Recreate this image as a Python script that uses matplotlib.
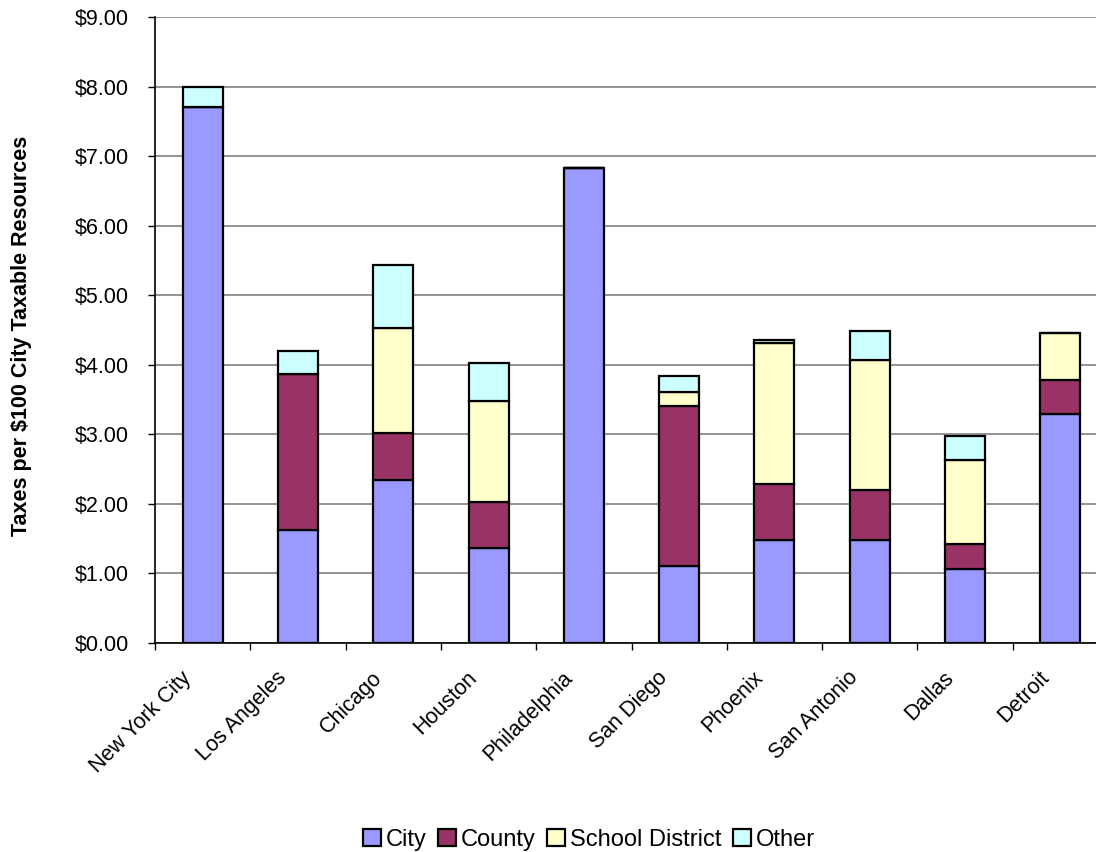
import matplotlib
matplotlib.use("Agg")
import matplotlib.pyplot as plt
import matplotlib.transforms as mtransforms
import numpy as np

plt.rcParams['font.family'] = ['Liberation Sans', 'DejaVu Sans']

cities = ["New York City", "Los Angeles", "Chicago", "Houston", "Philadelphia",
          "San Diego", "Phoenix", "San Antonio", "Dallas", "Detroit"]
city = [7.71, 1.62, 2.34, 1.37, 6.83, 1.11, 1.48, 1.48, 1.07, 3.29]
county = [0.00, 2.25, 0.68, 0.66, 0.00, 2.30, 0.81, 0.72, 0.35, 0.49]
school = [0.00, 0.00, 1.51, 1.45, 0.00, 0.20, 2.03, 1.87, 1.21, 0.67]
other = [0.29, 0.33, 0.90, 0.55, 0.00, 0.23, 0.04, 0.41, 0.35, 0.00]
series_names = ["City", "County", "School District", "Other"]
colors = ["#9999FF", "#993366", "#FFFFCC", "#CCFFFF"]
yticks = [0, 1, 2, 3, 4, 5, 6, 7, 8, 9]

fig = plt.figure(figsize=(10.96, 8.52), dpi=100)
ax = fig.add_axes([155/1096, 1-643/852, 953/1096, 626/852])

x = np.arange(len(cities))
bottom = np.zeros(len(cities))
handles = []
for name, vals, col in zip(series_names, [city, county, school, other], colors):
    v = np.array(vals)
    b = ax.bar(x, v, width=0.42, bottom=bottom, color=col, edgecolor="black",
               linewidth=1.6, label=name, zorder=3)
    handles.append(b)
    bottom += v

ax.set_xlim(-0.5, len(cities) - 0.5)
ax.set_ylim(0, 9)
ax.set_yticks(yticks)
ax.set_yticklabels([f"${t:.2f}" for t in yticks], fontsize=15.5)
ax.yaxis.grid(True, color="#808080", linewidth=1.2, zorder=0)
ax.set_axisbelow(True)

ax.set_xticks(np.arange(-0.5, len(cities), 1.0), minor=False)
ax.set_xticklabels([])
ax.set_xticks(x, minor=True)
ax.set_xticklabels(cities, minor=True, rotation=45, ha="right", rotation_mode="anchor",
                   fontsize=15.5)
ax.tick_params(axis="x", which="minor", length=0, pad=16)
ax.tick_params(axis="x", which="major", length=5, direction="out", width=1)
ax.tick_params(axis="y", length=5, direction="out", width=1, pad=14)
offset = mtransforms.ScaledTranslation(-22/100, -2/100, fig.dpi_scale_trans)
for lab in ax.get_xticklabels(minor=True):
    lab.set_transform(lab.get_transform() + offset)

for s in ["top", "right"]:
    ax.spines[s].set_visible(False)
ax.spines["left"].set_linewidth(1.2)
ax.spines["bottom"].set_linewidth(1.2)

ax.set_ylabel("Taxes per $100 City Taxable Resources", fontsize=15.5,
              fontweight="bold")
ax.yaxis.set_label_coords(-0.129, 0.49)

fig.legend(handles, series_names, loc="center", bbox_to_anchor=(589/1096, 1-840/852),
           ncol=4, frameon=False, fontsize=17, handlelength=0.75, handleheight=0.75,
           handletextpad=0.2, columnspacing=0.5)

fig.savefig("out.png", dpi=100)
